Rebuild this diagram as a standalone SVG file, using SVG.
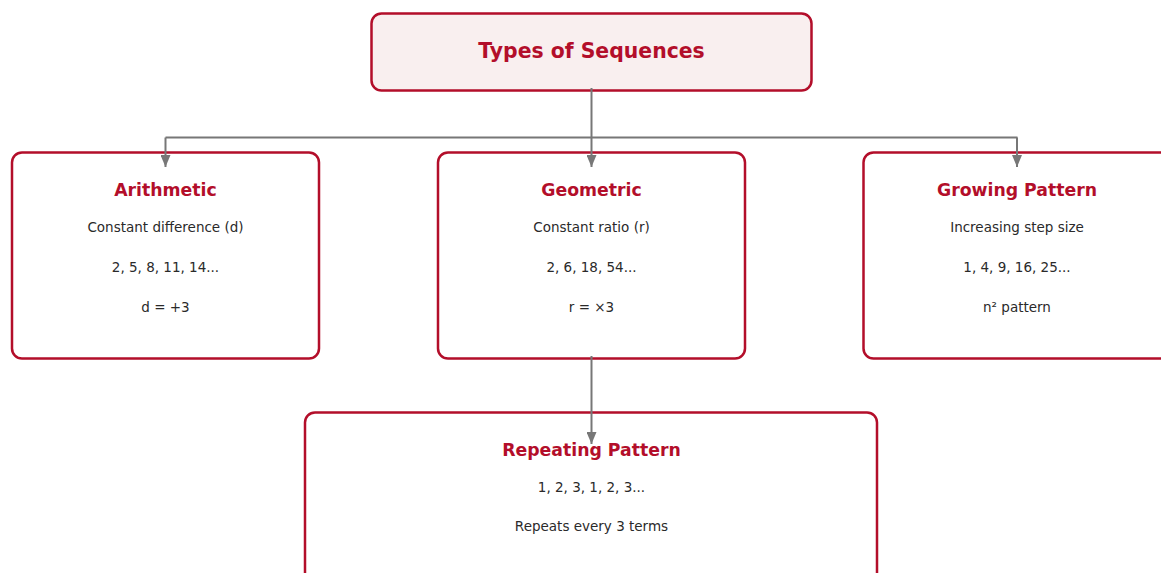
<svg xmlns="http://www.w3.org/2000/svg" width="1161" height="573" viewBox="0 0 1161 573">
<defs>
<style>
.box{fill:#ffffff;stroke:#b30e2a;stroke-width:2.5}
.root{fill:#f9efef;stroke:#b30e2a;stroke-width:2.5}
.title{font-family:"DejaVu Sans",sans-serif;font-weight:bold;fill:#b30e2a;text-anchor:middle}
.body{font-family:"DejaVu Sans",sans-serif;font-size:13.5px;fill:#2a2a2a;text-anchor:middle}
.conn{stroke:#777777;stroke-width:2;fill:none}
</style>
<marker id="ah" viewBox="0 0 12 10" refX="12" refY="5" markerWidth="12" markerHeight="10" orient="auto" markerUnits="userSpaceOnUse">
<path d="M0,0 L12,5 L0,10 z" fill="#777777"/>
</marker>
</defs>
<g id="root">
<rect class="root" x="371.5" y="13.5" width="440" height="77" rx="10"/>
<text class="title" x="591.5" y="58" font-size="20.4">Types of Sequences</text>
</g>
<g id="arithmetic">
<rect class="box" x="12" y="152.5" width="307" height="206" rx="10"/>
<text class="title" x="165.5" y="196" font-size="17.3">Arithmetic</text>
<text class="body" x="165.5" y="232">Constant difference (d)</text>
<text class="body" x="165.5" y="272">2, 5, 8, 11, 14...</text>
<text class="body" x="165.5" y="312">d = +3</text>
</g>
<g id="geometric">
<rect class="box" x="438" y="152.5" width="307" height="206" rx="10"/>
<text class="title" x="591.5" y="196" font-size="17.3">Geometric</text>
<text class="body" x="591.5" y="232">Constant ratio (r)</text>
<text class="body" x="591.5" y="272">2, 6, 18, 54...</text>
<text class="body" x="591.5" y="312">r = ×3</text>
</g>
<g id="growing">
<rect class="box" x="863.5" y="152.5" width="307" height="206" rx="10"/>
<text class="title" x="1017" y="196" font-size="17.3">Growing Pattern</text>
<text class="body" x="1017" y="232">Increasing step size</text>
<text class="body" x="1017" y="272">1, 4, 9, 16, 25...</text>
<text class="body" x="1017" y="312">n² pattern</text>
</g>
<g id="repeating">
<rect class="box" x="305" y="412.5" width="572" height="175" rx="10"/>
<text class="title" x="591.5" y="456" font-size="17.3">Repeating Pattern</text>
<text class="body" x="591.5" y="492">1, 2, 3, 1, 2, 3...</text>
<text class="body" x="591.5" y="531">Repeats every 3 terms</text>
</g>
<g id="connectors">
<line class="conn" x1="591.5" y1="88" x2="591.5" y2="167" marker-end="url(#ah)"/>
<line class="conn" x1="165.5" y1="137.5" x2="1017.5" y2="137.5"/>
<line class="conn" x1="165.5" y1="137.5" x2="165.5" y2="167" marker-end="url(#ah)"/>
<line class="conn" x1="1017" y1="137.5" x2="1017" y2="167" marker-end="url(#ah)"/>
<line class="conn" x1="591.5" y1="356" x2="591.5" y2="444" marker-end="url(#ah)"/>
</g>
</svg>
